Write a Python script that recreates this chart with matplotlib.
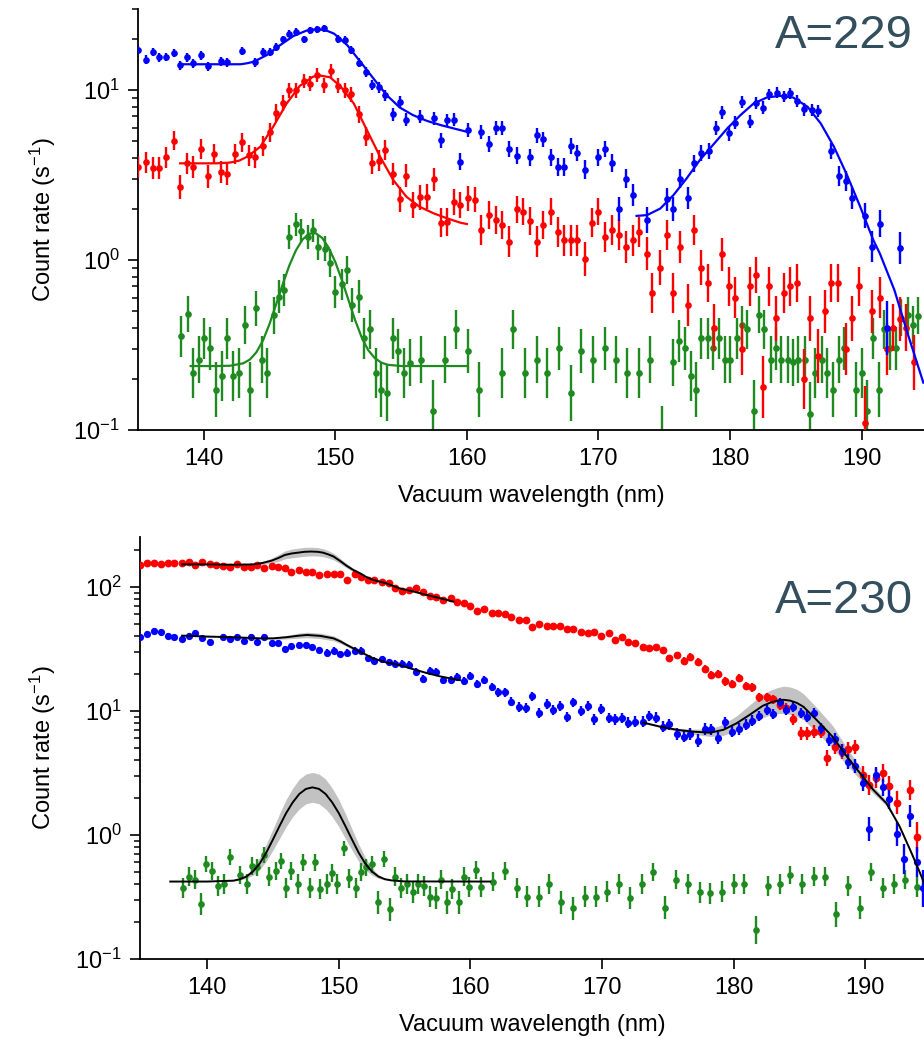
import numpy as np
import matplotlib
matplotlib.use('Agg')
import matplotlib.pyplot as plt
from matplotlib.ticker import LogLocator, FixedLocator, NullLocator

plt.rcParams['font.family'] = ['Liberation Sans', 'DejaVu Sans']
plt.rcParams['mathtext.fontset'] = 'custom'
plt.rcParams['mathtext.rm'] = 'Liberation Sans'
plt.rcParams['mathtext.it'] = 'Liberation Sans:italic'
plt.rcParams['mathtext.default'] = 'regular'

BLUE = '#0000ff'
RED = '#ff0000'
GREEN = '#1f8a1f'
BAND = '#c2c2c2'
LABEL_COL = '#334e5c'

# ---------------- A=229 (top panel) ----------------
t_blue_x = [135.0, 135.6, 136.1, 136.6, 137.1, 137.7, 138.2, 138.7, 139.2, 139.8, 140.3, 141.3, 141.8,
            142.9, 143.9, 144.5, 145.0, 145.5, 146.0, 146.5, 147.0, 147.6, 148.1, 148.6, 149.1, 150.2,
            150.7, 151.2, 151.8, 152.3, 152.8, 153.3, 153.8, 154.4, 154.9, 155.4, 156.4, 157.5, 158.0,
            158.5, 159.0, 159.5, 160.1, 161.1, 161.7, 162.2, 162.7, 163.2, 163.8, 164.8, 165.3, 165.8,
            166.4, 166.9, 167.4, 167.9, 168.4, 169.0, 170.0, 170.5, 171.0, 171.6, 172.1, 172.6, 173.7,
            175.2, 175.7, 176.2, 176.8, 177.3, 177.8, 178.4, 178.9, 179.4, 179.9, 180.4, 180.9, 181.5,
            182.0, 182.5, 183.0, 183.6, 184.1, 184.6, 185.1, 185.6, 186.2, 186.7, 187.7, 188.3, 188.8,
            189.3, 190.3, 190.8, 191.4, 191.9, 192.9]
t_blue_y = [17.3, 15.1, 16.7, 15.6, 15.7, 16.6, 14.0, 15.6, 14.4, 16.0, 13.8, 14.8, 14.6,
            17.0, 14.6, 16.8, 16.7, 18.0, 19.9, 21.5, 22.0, 19.9, 22.5, 22.8, 23.1, 20.0,
            19.7, 17.2, 14.5, 12.8, 10.7, 10.4, 9.35, 7.22, 8.54, 6.71, 6.97, 6.81, 5.08,
            6.66, 6.71, 3.79, 5.82, 5.69, 4.81, 5.96, 5.96, 4.48, 4.11, 4.02, 5.43, 5.13,
            4.02, 3.51, 3.54, 4.71, 4.28, 3.41, 4.02, 4.52, 3.74, 2.00, 3.02, 2.41, 1.73,
            2.28, 2.00, 3.02, 2.31, 3.71, 4.28, 4.40, 5.96, 7.40, 5.56, 6.43, 8.54, 6.52,
            8.42, 7.90, 9.44, 9.64, 9.22, 9.56, 8.65, 7.70, 7.63, 7.56, 4.40, 3.12, 2.93,
            2.31, 1.82, 1.20, 1.64, 0.40, 1.18]

t_red_x = [135.0, 135.6, 136.1, 136.6, 137.1, 137.7, 138.2, 138.7, 139.2, 139.8, 140.3, 140.8, 141.3,
           141.8, 142.4, 142.9, 143.4, 143.9, 144.5, 145.0, 145.5, 146.0, 146.5, 147.0, 147.6, 148.1,
           148.6, 149.1, 149.7, 150.2, 150.7, 151.2, 151.8, 152.3, 152.8, 153.3, 153.8, 154.4, 154.9,
           155.4, 155.9, 156.4, 157.0, 157.5, 158.0, 158.5, 159.0, 159.5, 160.1, 160.6, 161.1, 161.7,
           162.2, 162.7, 163.2, 163.8, 164.3, 164.8, 165.3, 165.8, 166.4, 166.9, 167.4, 167.9, 168.4,
           169.0, 169.5, 170.0, 170.5, 171.0, 171.6, 172.1, 172.6, 173.1, 173.7, 174.1, 174.7, 175.2,
           175.7, 176.2, 176.8, 177.3, 177.8, 178.3, 178.8, 179.4, 179.9, 180.4, 180.9, 181.5, 182.0,
           182.5, 183.0, 183.5, 184.1, 184.6, 185.1, 185.6, 186.1, 186.7, 187.2, 187.7, 188.2, 188.8,
           189.3, 189.8, 190.3, 190.8, 191.4, 191.9, 192.4, 192.9, 193.4, 194.0]
t_red_y = [3.54, 3.76, 3.49, 3.49, 4.02, 5.04, 2.70, 3.71, 3.54, 4.48, 3.12, 4.21, 3.31,
           3.21, 4.21, 4.92, 4.13, 4.02, 4.71, 5.64, 7.36, 8.42, 10.0, 10.0, 11.3, 10.9,
           12.3, 10.7, 13.0, 10.6, 10.0, 9.44, 7.22, 5.31, 3.71, 3.84, 4.44, 3.21, 2.28,
           3.13, 2.11, 2.34, 2.36, 2.99, 1.66, 1.68, 2.20, 2.11, 2.31, 2.27, 1.50, 1.84,
           1.72, 1.61, 1.28, 1.99, 1.92, 1.70, 1.28, 1.61, 1.92, 1.47, 1.31, 1.31, 1.31,
           1.02, 1.66, 1.92, 1.37, 1.50, 1.40, 1.19, 1.31, 1.47, 1.09, 0.637, 0.90, 1.40,
           0.637, 1.20, 0.543, 1.50, 0.90, 0.73, 0.40, 1.08, 0.70, 0.60, 0.30, 0.70, 0.817,
           0.18, 0.70, 0.454, 0.637, 0.70, 0.73, 0.20, 0.454, 0.272, 0.50, 0.73, 0.73, 0.30,
           0.454, 0.70, 0.11, 0.50, 0.60, 0.30, 0.40, 0.45, 0.40, 0.25]

t_green_x = [138.3, 138.8, 139.2, 139.6, 140.0, 140.5, 140.9, 141.4, 141.8, 142.2, 142.7, 143.1, 143.5,
             144.0, 144.4, 144.8, 145.3, 145.7, 146.1, 146.5, 147.0, 147.4, 147.9, 148.3, 148.7, 149.2,
             149.6, 150.0, 150.5, 150.9, 151.3, 151.8, 152.2, 152.6, 153.1, 153.5, 153.9, 154.4, 154.8,
             155.2, 155.7, 156.5, 157.4, 158.3, 159.2, 160.05, 160.9, 162.7, 163.5, 164.4, 165.3, 166.1,
             167.0, 167.9, 168.7, 169.6, 170.5, 171.3, 172.2, 173.1, 173.9, 174.8, 175.7, 176.1, 176.6,
             177.0, 177.4, 177.8, 178.3, 178.7, 179.2, 179.6, 180.0, 180.5, 180.9, 181.3, 181.8, 182.2,
             182.6, 183.1, 183.5, 183.9, 184.4, 184.8, 185.2, 185.7, 186.1, 186.5, 187.0, 187.4, 187.8,
             188.3, 188.7, 189.6, 190.0, 190.4, 190.9, 191.3, 191.7, 192.2, 192.6, 193.0, 193.5, 193.9,
             194.3]
t_green_y = [0.357, 0.481, 0.217, 0.260, 0.346, 0.302, 0.173, 0.208, 0.346, 0.208, 0.217, 0.415, 0.173,
             0.52, 0.260, 0.217, 0.474, 0.608, 0.667, 1.36, 1.62, 1.49, 1.36, 1.50, 1.19, 1.17,
             0.964, 0.652, 0.719, 0.873, 0.544, 0.608, 0.346, 0.391, 0.217, 0.173, 0.166, 0.346, 0.292,
             0.217, 0.249, 0.260, 0.130, 0.260, 0.391, 0.292, 0.173, 0.217, 0.391, 0.217, 0.260, 0.217,
             0.302, 0.166, 0.292, 0.260, 0.302, 0.260, 0.217, 0.217, 0.260, 0.085, 0.25, 0.333, 0.302,
             0.208, 0.173, 0.346, 0.346, 0.302, 0.346, 0.260, 0.260, 0.346, 0.415, 0.391, 0.130, 0.478,
             0.391, 0.260, 0.302, 0.260, 0.260, 0.25, 0.260, 0.260, 0.125, 0.217, 0.260, 0.217, 0.173,
             0.260, 0.302, 0.173, 0.217, 0.130, 0.346, 0.173, 0.391, 0.302, 0.302, 0.458, 0.474, 0.415,
             0.47]

# fitted curves, A=229
t_blue_fit1_x = [138.2, 139.0, 140.0, 141.0, 142.0, 142.8, 143.3, 143.8, 144.8, 145.8, 146.8, 147.8, 148.3,
                 148.8, 149.4, 149.9, 150.9, 151.9, 152.9, 153.9, 154.9, 155.9, 156.95, 158.0, 159.0, 160.0]
t_blue_fit1_y = [14.2, 14.2, 14.2, 14.2, 14.2, 14.2, 14.4, 14.7, 16.1, 18.4, 20.8, 22.4, 22.7,
                 22.8, 22.3, 21.5, 18.4, 14.7, 11.7, 9.35, 7.90, 7.13, 6.60, 6.23, 5.95, 5.69]
t_blue_fit2_x = [172.9, 173.7, 174.7, 175.7, 176.7, 177.7, 178.8, 179.8, 180.8, 181.8, 182.8, 183.8,
                 184.8, 185.9, 186.9, 187.9, 188.9, 189.9, 190.9, 191.4, 192.5, 193.5, 194.7]
t_blue_fit2_y = [1.82, 1.84, 2.01, 2.41, 3.02, 3.87, 4.85, 5.96, 7.13, 8.35, 9.05, 9.26,
                 9.05, 7.98, 6.37, 4.65, 3.16, 2.06, 1.31, 1.09, 0.666, 0.371, 0.19]
t_red_fit_x = [138.2, 139.0, 140.0, 141.0, 142.0, 142.7, 143.3, 144.3, 145.3, 146.3, 147.3, 148.3, 148.8,
               149.6, 150.4, 151.4, 152.4, 153.4, 154.4, 155.4, 156.4, 157.5, 158.5, 159.5, 160.0]
t_red_fit_y = [3.71, 3.71, 3.71, 3.71, 3.75, 3.85, 4.06, 4.65, 6.14, 8.35, 10.6, 12.0, 12.2,
               11.9, 10.5, 8.35, 5.82, 4.06, 2.96, 2.36, 2.06, 1.88, 1.76, 1.66, 1.63]
t_green_fit_x = [139.0, 140.0, 141.0, 142.0, 143.0, 143.5, 144.0, 144.5, 145.0, 145.5, 146.0, 146.5, 147.0,
                 147.5, 148.0, 148.5, 149.0, 149.5, 150.0, 150.5, 151.0, 151.5, 152.0, 152.5, 153.0, 153.5,
                 154.0, 155.0, 157.0, 160.0]
t_green_fit_y = [0.238, 0.238, 0.238, 0.239, 0.247, 0.260, 0.287, 0.337, 0.422, 0.550, 0.722, 0.929, 1.14,
                 1.32, 1.43, 1.44, 1.35, 1.18, 0.972, 0.762, 0.581, 0.444, 0.351, 0.295, 0.265, 0.249,
                 0.242, 0.238, 0.238, 0.238]

# ---------------- A=230 (bottom panel) ----------------
b_red_x = [134.9, 135.4, 136.0, 136.5, 137.0, 137.5, 138.1, 138.6, 139.1, 139.6, 140.2, 140.7, 141.2,
           141.7, 142.3, 142.8, 143.3, 143.8, 144.3, 144.9, 145.4, 145.9, 146.4, 147.0, 147.5, 148.0,
           148.5, 149.1, 149.6, 150.1, 150.6, 151.2, 151.7, 152.2, 152.7, 153.3, 153.8, 154.3, 154.8,
           155.3, 155.9, 156.4, 156.9, 157.4, 157.9, 158.5, 159.0, 159.5, 160.0, 160.5, 161.0, 161.6,
           162.1, 162.6, 163.1, 163.7, 164.2, 164.7, 165.2, 165.8, 166.3, 166.8, 167.3, 167.8, 168.4,
           168.9, 169.4, 169.9, 170.5, 171.0, 171.5, 172.0, 172.5, 173.1, 173.6, 174.1, 174.6, 175.1,
           175.7, 176.2, 176.7, 177.3, 177.8, 178.3, 178.8, 179.3, 179.9, 180.4, 180.9, 181.4, 181.9,
           182.5, 183.0, 183.5, 184.0, 184.5, 185.1, 185.6, 186.1, 186.6, 187.1, 187.7, 188.2, 188.7,
           189.2, 189.8, 190.3, 190.8, 191.3, 191.8, 192.4, 193.4, 193.95]
b_red_y = [150, 157, 157, 152, 155, 155, 155, 159, 150, 159, 154, 151, 147,
           146, 153, 144, 146, 150, 141, 148, 144, 143, 133, 137, 131, 133,
           124, 128, 126, 126, 114, 126, 121, 114, 114, 110, 108, 98.8, 92.9,
           95.2, 97.6, 91.7, 84.5, 82.6, 78.6, 81.1, 76.2, 74.8, 70.8, 64.5, 66.9, 62.1,
           61.4, 60.2, 57.7, 54.2, 54.2, 47.9, 50.3, 48.5, 48.5, 48.5, 45.6, 46.2, 43.1,
           42.3, 43.1, 40.3, 42.9, 37.4, 39.3, 36.3, 35.2, 32.5, 32.0, 32.5, 31.0, 26.6,
           28.3, 25.5, 27.4, 25.0, 21.7, 19.5, 19.8, 17.3, 16.5, 18.4, 15.9, 15.5, 12.9,
           12.9, 12.4, 11.2, 10.5, 8.57, 6.61, 6.61, 6.81, 6.81, 4.15, 5.09, 4.70, 4.90,
           5.09, 3.05, 2.53, 2.86, 3.14, 2.48, 1.82, 2.31, 0.96]

b_blue_x = [134.9, 135.4, 136.0, 136.5, 137.0, 137.5, 138.1, 138.6, 139.1, 139.6, 140.2, 141.2, 141.7,
            142.3, 142.8, 143.3, 143.8, 144.3, 144.9, 145.4, 145.9, 146.4, 147.0, 147.5, 148.0, 148.5,
            149.1, 149.6, 150.1, 150.6, 151.2, 151.7, 152.2, 152.7, 153.3, 153.8, 154.3, 154.8, 155.3,
            155.9, 156.4, 156.9, 157.4, 157.9, 158.5, 159.0, 159.5, 160.0, 160.5, 161.0, 161.6, 162.1,
            162.6, 163.1, 163.7, 164.2, 164.7, 165.2, 165.8, 166.3, 166.8, 167.3, 167.8, 168.4, 168.9,
            169.4, 169.9, 170.5, 171.0, 171.5, 172.0, 172.5, 173.1, 173.6, 174.1, 174.6, 175.1, 175.7,
            176.2, 176.7, 177.3, 177.8, 178.3, 178.8, 179.3, 179.9, 180.4, 180.9, 181.4, 181.9, 182.5,
            183.0, 183.5, 184.0, 184.5, 185.1, 185.6, 186.1, 186.65, 187.2, 187.7, 188.2, 188.7, 189.2,
            189.8, 190.3, 190.8, 191.3, 191.8, 192.4, 192.9, 193.4, 193.95, 194.4]
b_blue_y = [39.3, 41.8, 44.2, 43.6, 40.5, 39.3, 37.8, 40.3, 42.9, 38.5, 36.3, 39.3, 37.8,
            39.8, 36.9, 39.3, 35.8, 39.8, 35.2, 35.2, 31.6, 33.4, 34.1, 34.1, 32.6, 31.1,
            29.5, 30.7, 28.8, 29.5, 30.7, 30.7, 26.6, 25.5, 26.1, 24.7, 24.0, 24.0, 23.5,
            20.8, 18.1, 21.1, 20.8, 17.8, 17.8, 18.9, 17.3, 19.3, 16.5, 17.8, 15.7, 14.1,
            14.1, 11.9, 10.8, 10.5, 13.1, 9.70, 11.4, 10.2, 11.0, 8.89, 11.7, 10.0, 11.0,
            8.57, 10.3, 8.73, 8.57, 8.73, 8.06, 8.20, 8.20, 9.12, 8.84, 7.48, 7.81, 6.53,
            6.22, 6.53, 5.77, 7.16, 7.11, 6.02, 8.11, 6.81, 7.16, 7.71, 8.36, 9.17, 10.1,
            9.40, 11.7, 10.2, 10.8, 9.58, 9.00, 9.58, 7.25, 5.84, 5.94, 4.79, 3.90, 3.60,
            2.64, 1.11, 3.05, 2.42, 1.94, 1.02, 0.636, 1.42, 0.605, 0.372]

b_green_x = [138.2, 138.6, 139.1, 139.5, 139.9, 140.4, 140.8, 141.3, 141.7, 142.5, 143.0, 143.4, 143.8,
             144.3, 144.7, 145.2, 145.6, 146.0, 146.4, 146.9, 147.3, 147.8, 148.2, 148.6, 149.1, 149.5,
             149.9, 150.4, 150.8, 151.3, 151.7, 152.1, 152.5, 153.0, 153.4, 153.9, 154.3, 154.7, 155.2,
             155.6, 156.0, 156.5, 156.9, 157.4, 157.8, 158.2, 158.6, 159.1, 159.5, 159.9, 160.4, 160.8,
             161.7, 162.6, 163.5, 164.3, 165.2, 166.0, 166.9, 167.8, 168.7, 169.5, 170.4, 171.3, 172.1,
             173.0, 173.9, 174.8, 175.6, 176.5, 177.4, 178.2, 179.1, 180.0, 180.8, 181.7, 182.6, 183.5,
             184.3, 185.2, 186.1, 186.9, 187.8, 188.7, 189.6, 190.4, 191.3, 192.2, 193.0, 193.9]
b_green_y = [0.376, 0.461, 0.434, 0.277, 0.583, 0.515, 0.388, 0.403, 0.661, 0.476, 0.403, 0.562, 0.548,
             0.690, 0.461, 0.515, 0.617, 0.376, 0.515, 0.403, 0.601, 0.376, 0.601, 0.365, 0.403, 0.491,
             0.403, 0.780, 0.448, 0.376, 0.506, 0.548, 0.579, 0.286, 0.637, 0.251, 0.461, 0.376, 0.403,
             0.345, 0.403, 0.388, 0.318, 0.308, 0.434, 0.286, 0.365, 0.286, 0.461, 0.378, 0.522, 0.378,
             0.421, 0.515, 0.376, 0.318, 0.318, 0.403, 0.286, 0.256, 0.318, 0.318, 0.349, 0.403, 0.308,
             0.403, 0.506, 0.259, 0.434, 0.403, 0.345, 0.338, 0.349, 0.403, 0.403, 0.171, 0.388, 0.403,
             0.476, 0.403, 0.461, 0.461, 0.229, 0.388, 0.259, 0.506, 0.372, 0.403, 0.434, 0.378]

# fitted curves, A=230, with half-width of the grey band (decades)
b_red_fit_x = [138.1, 140.0, 142.0, 143.5, 144.2, 144.9, 145.4, 145.9, 146.4, 146.9, 147.4, 147.9, 148.4,
               148.8, 149.2, 149.6, 150.1, 150.6, 151.1, 151.6, 152.1, 152.6, 153.6, 154.6, 155.7, 156.7,
               157.7, 158.7]
b_red_fit_y = [152, 152, 151, 152, 156, 163, 171, 181, 186, 189, 192, 193, 192,
               189, 183, 176, 162, 148, 137, 129, 120, 114, 107, 97.6, 91.7, 86.1,
               81.1, 76.2]
b_red_band = [0.004, 0.004, 0.004, 0.006, 0.012, 0.02, 0.027, 0.032, 0.035, 0.036, 0.036, 0.035, 0.034,
              0.032, 0.03, 0.027, 0.022, 0.018, 0.014, 0.011, 0.009, 0.008, 0.006, 0.005, 0.005, 0.005,
              0.004, 0.004]

b_blue_fit1_x = [138.1, 140.0, 142.0, 144.0, 145.0, 146.0, 147.0, 147.6, 148.6, 149.6, 150.1, 150.6, 151.1,
                 151.6, 152.6, 153.6, 154.6, 155.6, 156.7, 157.7, 158.7, 159.2]
b_blue_fit1_y = [40.5, 39.8, 39.3, 38.5, 38.5, 39.3, 40.5, 41.0, 40.3, 38.5, 36.5, 34.1, 32.0,
                 30.1, 26.6, 24.6, 23.5, 21.8, 20.2, 19.0, 18.1, 17.7]
b_blue_band1 = [0.003, 0.003, 0.003, 0.004, 0.008, 0.014, 0.02, 0.022, 0.022, 0.02, 0.017, 0.014, 0.01,
                0.008, 0.005, 0.003, 0.003, 0.003, 0.003, 0.003, 0.003, 0.003]

b_blue_fit2_x = [173.1, 174.4, 175.7, 176.9, 178.2, 179.2, 180.2, 181.2, 182.2, 182.8, 183.3, 183.8, 184.3,
                 184.8, 185.3, 186.3, 187.5, 188.6, 189.6, 190.6, 191.6, 192.6, 193.4, 194.0, 194.5]
b_blue_fit2_y = [8.06, 7.48, 7.04, 6.81, 6.68, 7.04, 7.94, 9.29, 11.0, 11.7, 12.1, 12.3, 12.1,
                 11.6, 10.8, 8.45, 6.21, 4.28, 3.14, 2.31, 1.80, 1.17, 0.757, 0.538, 0.40]
b_blue_band2 = [0.005, 0.008, 0.012, 0.02, 0.03, 0.045, 0.06, 0.08, 0.095, 0.10, 0.105, 0.11, 0.11,
                0.11, 0.105, 0.10, 0.09, 0.07, 0.05, 0.03, 0.02, 0.012, 0.01, 0.01, 0.01]

b_green_fit_x = [137.2, 140.0, 142.0, 142.5, 143.0, 143.5, 144.0, 144.5, 145.0, 145.5, 146.0, 146.5, 147.0,
                 147.5, 148.0, 148.5, 149.0, 149.5, 150.0, 150.5, 151.0, 151.5, 152.0, 152.5, 153.0, 153.5,
                 154.0, 155.0, 161.5]
b_green_fit_y = [0.421, 0.421, 0.428, 0.440, 0.463, 0.509, 0.590, 0.723, 0.920, 1.18, 1.50, 1.83, 2.14,
                 2.35, 2.42, 2.35, 2.14, 1.83, 1.50, 1.18, 0.920, 0.723, 0.590, 0.509, 0.463, 0.440,
                 0.430, 0.422, 0.421]
b_green_band = [0.0, 0.0, 0.002, 0.006, 0.015, 0.03, 0.05, 0.07, 0.085, 0.10, 0.11, 0.115, 0.12,
                0.12, 0.12, 0.12, 0.12, 0.115, 0.11, 0.10, 0.085, 0.07, 0.05, 0.03, 0.015, 0.006,
                0.002, 0.0, 0.0]


def points(ax, x, y, k, p, color, ms, z):
    # error bars shrink with count rate (log-symmetric half width k*y^-p decades)
    y = np.asarray(y, dtype=float)
    d = k * y ** (-p)
    lo = y - y / 10 ** d
    hi = y * 10 ** d - y
    ax.errorbar(x, y, yerr=[lo, hi], fmt='o', ms=ms, color=color, ecolor=color,
                elinewidth=1.7, capsize=0, mew=0, zorder=z)


def band(ax, x, y, d):
    y = np.asarray(y, dtype=float)
    d = np.asarray(d, dtype=float)
    ax.fill_between(x, y / 10 ** d, y * 10 ** d, color=BAND, lw=0, zorder=1)


def style(ax, ylim, xlim, lab_x):
    ax.set_yscale('log')
    ax.set_xlim(*xlim)
    ax.set_ylim(*ylim)
    ax.spines['top'].set_visible(False)
    ax.spines['right'].set_visible(False)
    for s in ('left', 'bottom'):
        ax.spines[s].set_linewidth(1.3)
    ax.xaxis.set_major_locator(FixedLocator([140, 150, 160, 170, 180, 190]))
    ax.xaxis.set_minor_locator(NullLocator())
    ax.yaxis.set_major_locator(LogLocator(base=10, numticks=10))
    ax.yaxis.set_minor_locator(LogLocator(base=10, subs=np.arange(2, 10), numticks=20))
    ax.tick_params(which='major', direction='out', length=7, width=1.2, labelsize=17, pad=6)
    ax.tick_params(which='minor', direction='out', length=4.5, width=1.1)
    ax.set_xlabel('Vacuum wavelength (nm)', fontsize=17)
    ax.set_ylabel('Count rate (s$^{-1}$)', fontsize=17)
    ax.xaxis.set_label_coords(0.5, -0.13)
    ax.yaxis.set_label_coords(lab_x, 0.5)


fig = plt.figure(figsize=(9.24, 10.41), dpi=100)

ax1 = fig.add_axes([0.1494, 0.5869, 0.8506, 0.4044])
points(ax1, t_green_x, t_green_y, 0.08, 0.4, GREEN, 4.8, 2)
points(ax1, t_red_x, t_red_y, 0.1, 0.35, RED, 4.8, 3)
points(ax1, t_blue_x, t_blue_y, 0.1, 0.5, BLUE, 4.8, 4)
ax1.plot(t_green_fit_x, t_green_fit_y, color=GREEN, lw=1.6, zorder=5)
ax1.plot(t_red_fit_x, t_red_fit_y, color=RED, lw=1.6, zorder=5)
ax1.plot(t_blue_fit1_x, t_blue_fit1_y, color=BLUE, lw=1.6, zorder=5)
ax1.plot(t_blue_fit2_x, t_blue_fit2_y, color=BLUE, lw=1.6, zorder=5)
style(ax1, (0.1, 30), (135.0, 194.75), -0.102)

ax2 = fig.add_axes([0.1515, 0.0788, 0.8485, 0.4054])
band(ax2, b_red_fit_x, b_red_fit_y, b_red_band)
band(ax2, b_blue_fit1_x, b_blue_fit1_y, b_blue_band1)
band(ax2, b_blue_fit2_x, b_blue_fit2_y, b_blue_band2)
band(ax2, b_green_fit_x, b_green_fit_y, b_green_band)
points(ax2, b_green_x, b_green_y, 0.055, 0.4, GREEN, 4.8, 2)
points(ax2, b_red_x, b_red_y, 0.12, 0.45, RED, 5.6, 3)
points(ax2, b_blue_x, b_blue_y, 0.1, 0.4, BLUE, 5.2, 4)
for fx, fy in ((b_red_fit_x, b_red_fit_y), (b_blue_fit1_x, b_blue_fit1_y),
               (b_blue_fit2_x, b_blue_fit2_y), (b_green_fit_x, b_green_fit_y)):
    ax2.plot(fx, fy, color='black', lw=1.4, zorder=5)
style(ax2, (0.1, 253), (134.9, 194.45), -0.105)

fig.text(0.988, 0.954, 'A=229', fontsize=34, color=LABEL_COL, ha='right', va='baseline')
fig.text(0.988, 0.411, 'A=230', fontsize=34, color=LABEL_COL, ha='right', va='baseline')

fig.savefig('out.png', dpi=100)
